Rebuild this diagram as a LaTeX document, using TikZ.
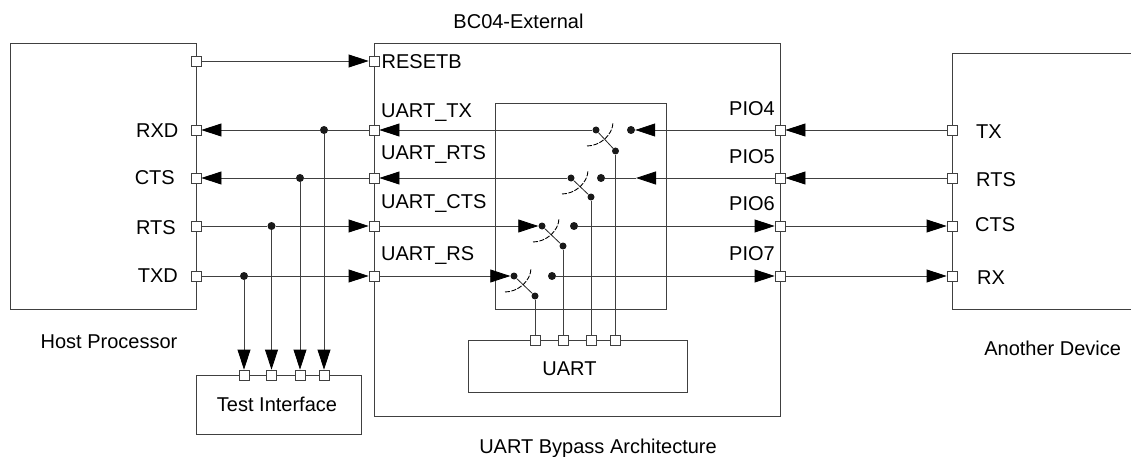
\documentclass[tikz,border=0pt]{standalone}
\usepackage{fontspec}
\setmainfont{Liberation Sans}
\usetikzlibrary{arrows.meta}

\tikzset{
    block/.style={draw=black!75,line width=0.8pt},
    port/.style={draw=black!75,fill=white,line width=0.8pt,minimum size=10pt,inner sep=0pt},
    dot/.style={circle,fill=black!90,minimum size=7pt,inner sep=0pt},
    wire/.style={draw=black!75,line width=0.8pt},
    sig/.style={wire,-{Triangle[length=20pt,width=13pt,black]}},
    lever/.style={draw=black!85,line width=0.8pt},
    sweep/.style={draw=black,line width=0.9pt,dash pattern=on 5pt off 1.5pt},
    lbl/.style={inner sep=0pt,font=\fontsize{20}{20}\selectfont}
}

\begin{document}
\begin{tikzpicture}[x=1pt,y=-1pt]
    \useasboundingbox (0,0) rectangle (1131,457);

    % Draw blocks
    \draw[block] (10,43) rectangle (196,309);
    \draw[block] (374,43) rectangle (780,416);
    \draw[block] (1131,53) -- (952,53) -- (952,309) -- (1131,309);
    \draw[block] (495,103) rectangle (666,309);
    \node[block,minimum width=219pt,minimum height=52pt] (uart) at (578,366) {};
    \node[block,minimum width=165pt,minimum height=59pt] (testif) at (278.5,404.5) {};

    % Draw ports
    \foreach \name/\y in {reset/61,rxd/130,cts/178,rts/226,txd/276} {
        \node[port] (host\name) at (196,\y) {};
    }
    \foreach \name/\y in {reset/61,utx/130,urts/178,ucts/226,urs/276} {
        \node[port] (main\name) at (374,\y) {};
    }
    \foreach \name/\y in {four/130,five/178,six/226,seven/276} {
        \node[port] (pio\name) at (780,\y) {};
    }
    \foreach \name/\y in {tx/130,rts/178,cts/226,rx/276} {
        \node[port] (dev\name) at (952,\y) {};
    }
    \foreach \name/\x in {a/535,b/563,c/591,d/615.5} {
        \node[port] (uart\name) at (\x,340) {};
    }
    \foreach \name/\x in {a/244,b/271.5,c/300,d/324} {
        \node[port] (test\name) at (\x,375) {};
    }

    % Draw junctions
    \node[dot,minimum size=8pt] (juncd) at (324,130) {};
    \node[dot,minimum size=8pt] (juncc) at (300,178) {};
    \node[dot,minimum size=8pt] (juncb) at (271.5,226) {};
    \node[dot,minimum size=8pt] (junca) at (244,276) {};

    % Draw switches
    \foreach \name/\x/\y/\cx/\bx/\by in {d/596/130/631/615.5/151,c/571/178/601/591/197,b/542/226/574/563/246,a/514/276/552/535/296} {
        \node[dot] (pole\name) at (\x,\y) {};
        \node[dot,minimum size=8pt] (contact\name) at (\cx,\y) {};
        \node[dot] (tap\name) at (\bx,\by) {};
        \draw[lever] (pole\name) -- (tap\name);
        \draw[sweep] (\x-9,\y+16) .. controls (\x+4,\y+16) and (\x+17,\y+5) .. (\x+17,\y-8);
    }

    % Draw host side wires
    \draw[sig] (hostreset) -- (mainreset);
    \draw[wire] (mainutx) -- (juncd);
    \draw[sig] (juncd) -- (hostrxd);
    \draw[wire] (mainurts) -- (juncc);
    \draw[sig] (juncc) -- (hostcts);
    \draw[wire] (hostrts) -- (juncb);
    \draw[sig] (juncb) -- (mainucts);
    \draw[wire] (hosttxd) -- (junca);
    \draw[sig] (junca) -- (mainurs);

    % Draw wires down to test interface
    \draw[sig] (junca) -- (testa);
    \draw[sig] (juncb) -- (testb);
    \draw[sig] (juncc) -- (testc);
    \draw[sig] (juncd) -- (testd);

    % Draw wires through the switch box
    \coordinate (stopc) at (636,178);
    \draw[sig] (poled) -- (mainutx);
    \draw[sig] (piofour) -- (contactd);
    \draw[sig] (polec) -- (mainurts);
    \draw[sig] (piofive) -- (stopc);
    \draw[wire] (stopc) -- (contactc);
    \draw[sig] (mainucts) -- (poleb);
    \draw[sig] (contactb) -- (piosix);
    \draw[sig] (mainurs) -- (polea);
    \draw[sig] (contacta) -- (pioseven);

    % Draw device side wires
    \draw[sig] (devtx) -- (piofour);
    \draw[sig] (devrts) -- (piofive);
    \draw[sig] (piosix) -- (devcts);
    \draw[sig] (pioseven) -- (devrx);

    % Draw wires from UART
    \draw[wire] (uarta) -- (tapa);
    \draw[wire] (uartb) -- (tapb);
    \draw[wire] (uartc) -- (tapc);
    \draw[wire] (uartd) -- (tapd);

    % Draw labels
    \node[lbl,anchor=base] (title) at (518.5,28.3) {BC04-External};
    \node[lbl,anchor=base] (caption) at (598,453) {UART Bypass Architecture};
    \node[lbl,anchor=base] (hostname) at (109,348.3) {Host Processor};
    \node[lbl,anchor=base] (devname) at (1052.7,355) {Another Device};
    \node[lbl,anchor=base] (uartname) at (569.5,375.7) {UART};
    \node[lbl,anchor=base] (testname) at (277,411) {Test Interface};
    \node[lbl,anchor=base east] (rxdlabel) at (178.5,137.3) {RXD};
    \node[lbl,anchor=base east] (ctslabelh) at (175,185) {CTS};
    \node[lbl,anchor=base east] (rtslabelh) at (176,234) {RTS};
    \node[lbl,anchor=base east] (txdlabel) at (178,282.7) {TXD};
    \node[lbl,anchor=base west] (resetb) at (381.5,68.3) {RESETB};
    \node[lbl,anchor=base west] (uarttx) at (381,117.3) {UART\_TX};
    \node[lbl,anchor=base west] (uartrts) at (381,160) {UART\_RTS};
    \node[lbl,anchor=base west] (uartcts) at (381,208.3) {UART\_CTS};
    \node[lbl,anchor=base west] (uartrs) at (381,260) {UART\_RS};
    \foreach \txt/\y in {4/115.7,5/164,6/210.7,7/260} {
        \node[lbl,anchor=base east] (pio\txt) at (775,\y) {PIO\txt};
    }
    \node[lbl,anchor=base west] (txlabel) at (976,138.3) {TX};
    \node[lbl,anchor=base west] (rtslabel) at (976,186) {RTS};
    \node[lbl,anchor=base west] (ctslabel) at (975,231) {CTS};
    \node[lbl,anchor=base west] (rxlabel) at (977,284.3) {RX};
\end{tikzpicture}
\end{document}
